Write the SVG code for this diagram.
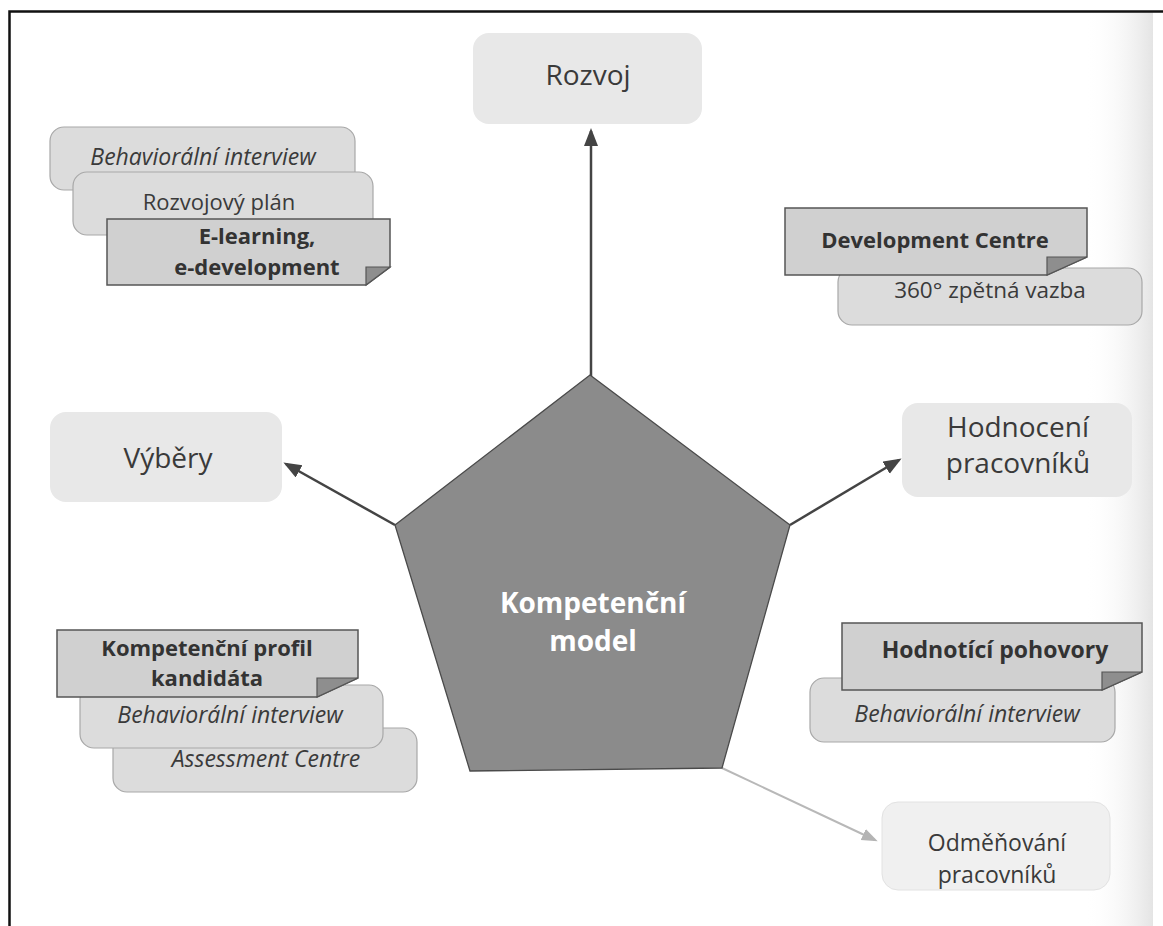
<svg xmlns="http://www.w3.org/2000/svg" width="1163" height="926" viewBox="0 0 1163 926">
  <defs>
    <linearGradient id="spine" x1="0" y1="0" x2="1" y2="0">
      <stop offset="0" stop-color="#ffffff" stop-opacity="0"/>
      <stop offset="1" stop-color="#e4e4e4"/>
    </linearGradient>
    <marker id="head" markerUnits="userSpaceOnUse" markerWidth="20" markerHeight="16" refX="15" refY="7" orient="auto">
      <path d="M0,0 L18,7 L0,14 z" fill="#444"/>
    </marker>
    <marker id="head-light" markerUnits="userSpaceOnUse" markerWidth="18" markerHeight="14" refX="13" refY="6" orient="auto">
      <path d="M0,0 L16,6 L0,12 z" fill="#b4b4b4"/>
    </marker>
  </defs>
  <style>
    text { font-family: "Open Sans", "Liberation Sans", sans-serif; fill: #3a3a3a; text-anchor: middle; }
    .big { font-size: 28px; }
    .mid { font-size: 23px; }
    .reg { font-size: 22px; }
    .ital { font-size: 23px; font-style: italic; }
    .bold { font-size: 22px; font-weight: bold; fill: #333; }
    .centre { font-size: 28px; font-weight: bold; fill: #ffffff; }
    .main { fill: #e8e8e8; }
    .card { fill: #dcdcdc; stroke: #a8a8a8; stroke-width: 1.2; }
    .tag { fill: #d0d0d0; stroke: #555; stroke-width: 1.5; stroke-linejoin: miter; }
    .fold { fill: #8e8e8e; stroke: #555; stroke-width: 1.2; }
    .arrow { stroke: #444; stroke-width: 2.5; fill: none; marker-end: url(#head); }
    .arrow-light { stroke: #b8b8b8; stroke-width: 2; fill: none; marker-end: url(#head-light); }
  </style>

  <!-- page -->
  <rect x="0" y="0" width="1163" height="926" fill="#ffffff"/>
  <rect x="1085" y="12" width="68" height="914" fill="url(#spine)"/>
  <path d="M9.5,926 L9.5,11.5 L1163,11.5" fill="none" stroke="#111" stroke-width="2.5"/>

  <!-- connectors -->
  <g id="connectors">
    <line class="arrow" x1="591" y1="376" x2="591" y2="131"/>
    <line class="arrow" x1="395" y1="525" x2="286" y2="464"/>
    <line class="arrow" x1="790" y1="525" x2="899" y2="460"/>
    <line class="arrow-light" x1="722" y1="768" x2="875" y2="840"/>
  </g>

  <!-- centre -->
  <g id="kompetencni-model">
    <polygon points="590,375 790,525 722,768 470,771 395,525" fill="#8b8b8b" stroke="#4a4a4a" stroke-width="1.3"/>
    <text class="centre" x="593" y="613">Kompetenční</text>
    <text class="centre" x="593" y="651">model</text>
  </g>

  <!-- main areas -->
  <g id="rozvoj">
    <rect class="main" x="473" y="33" width="229" height="91" rx="16"/>
    <text class="big" x="588" y="85">Rozvoj</text>
  </g>
  <g id="vybery">
    <rect class="main" x="50" y="412" width="232" height="90" rx="16"/>
    <text class="big" x="168" y="468">Výběry</text>
  </g>
  <g id="hodnoceni">
    <rect class="main" x="902" y="403" width="230" height="94" rx="16" fill="#e6e6e6"/>
    <text class="big" x="1018" y="437">Hodnocení</text>
    <text class="big" x="1018" y="473">pracovníků</text>
  </g>
  <g id="odmenovani">
    <rect x="882" y="802" width="228" height="88" rx="16" fill="#f0f0f0" stroke="#e2e2e2" stroke-width="1"/>
    <text class="mid" x="997" y="851">Odměňování</text>
    <text class="mid" x="997" y="883">pracovníků</text>
  </g>

  <!-- tools for Rozvoj -->
  <g id="rozvoj-tools">
    <rect class="card" x="50" y="127" width="305" height="63" rx="14"/>
    <text class="ital" x="203" y="165">Behaviorální interview</text>
    <rect class="card" x="73" y="172" width="300" height="63" rx="14"/>
    <text class="reg" x="219" y="210">Rozvojový plán</text>
    <path class="tag" d="M107,219 H390 V267 L366,285 H107 Z"/>
    <path class="fold" d="M366,267 H390 L366,285 Z"/>
    <text class="bold" x="257" y="244">E-learning,</text>
    <text class="bold" x="257" y="275">e-development</text>
  </g>

  <!-- tools for development -->
  <g id="development-tools">
    <rect class="card" x="838" y="268" width="304" height="57" rx="14"/>
    <text class="reg" x="990" y="298" style="font-size:22.5px">360° zpětná vazba</text>
    <path class="tag" d="M785,208 H1087 V257 L1047,275 H785 Z"/>
    <path class="fold" d="M1047,257 H1087 L1047,275 Z"/>
    <text class="bold" x="935" y="248">Development Centre</text>
  </g>

  <!-- tools for Výběry -->
  <g id="vybery-tools">
    <rect class="card" x="113" y="728" width="304" height="64" rx="14"/>
    <text class="ital" x="266" y="767">Assessment Centre</text>
    <rect class="card" x="80" y="685" width="303" height="63" rx="14"/>
    <text class="ital" x="230" y="723">Behaviorální interview</text>
    <path class="tag" d="M57,630 H358 V678 L317,697 H57 Z"/>
    <path class="fold" d="M317,678 H358 L317,697 Z"/>
    <text class="bold" x="207" y="656">Kompetenční profil</text>
    <text class="bold" x="207" y="686">kandidáta</text>
  </g>

  <!-- tools for Hodnocení pracovníků -->
  <g id="hodnoceni-tools">
    <rect class="card" x="810" y="678" width="305" height="64" rx="14"/>
    <text class="ital" x="967" y="722">Behaviorální interview</text>
    <path class="tag" d="M842,623 H1142 V672 L1102,690 H842 Z"/>
    <path class="fold" d="M1102,672 H1142 L1102,690 Z"/>
    <text class="bold" x="995" y="658" style="font-size:23px">Hodnotící pohovory</text>
  </g>
</svg>
